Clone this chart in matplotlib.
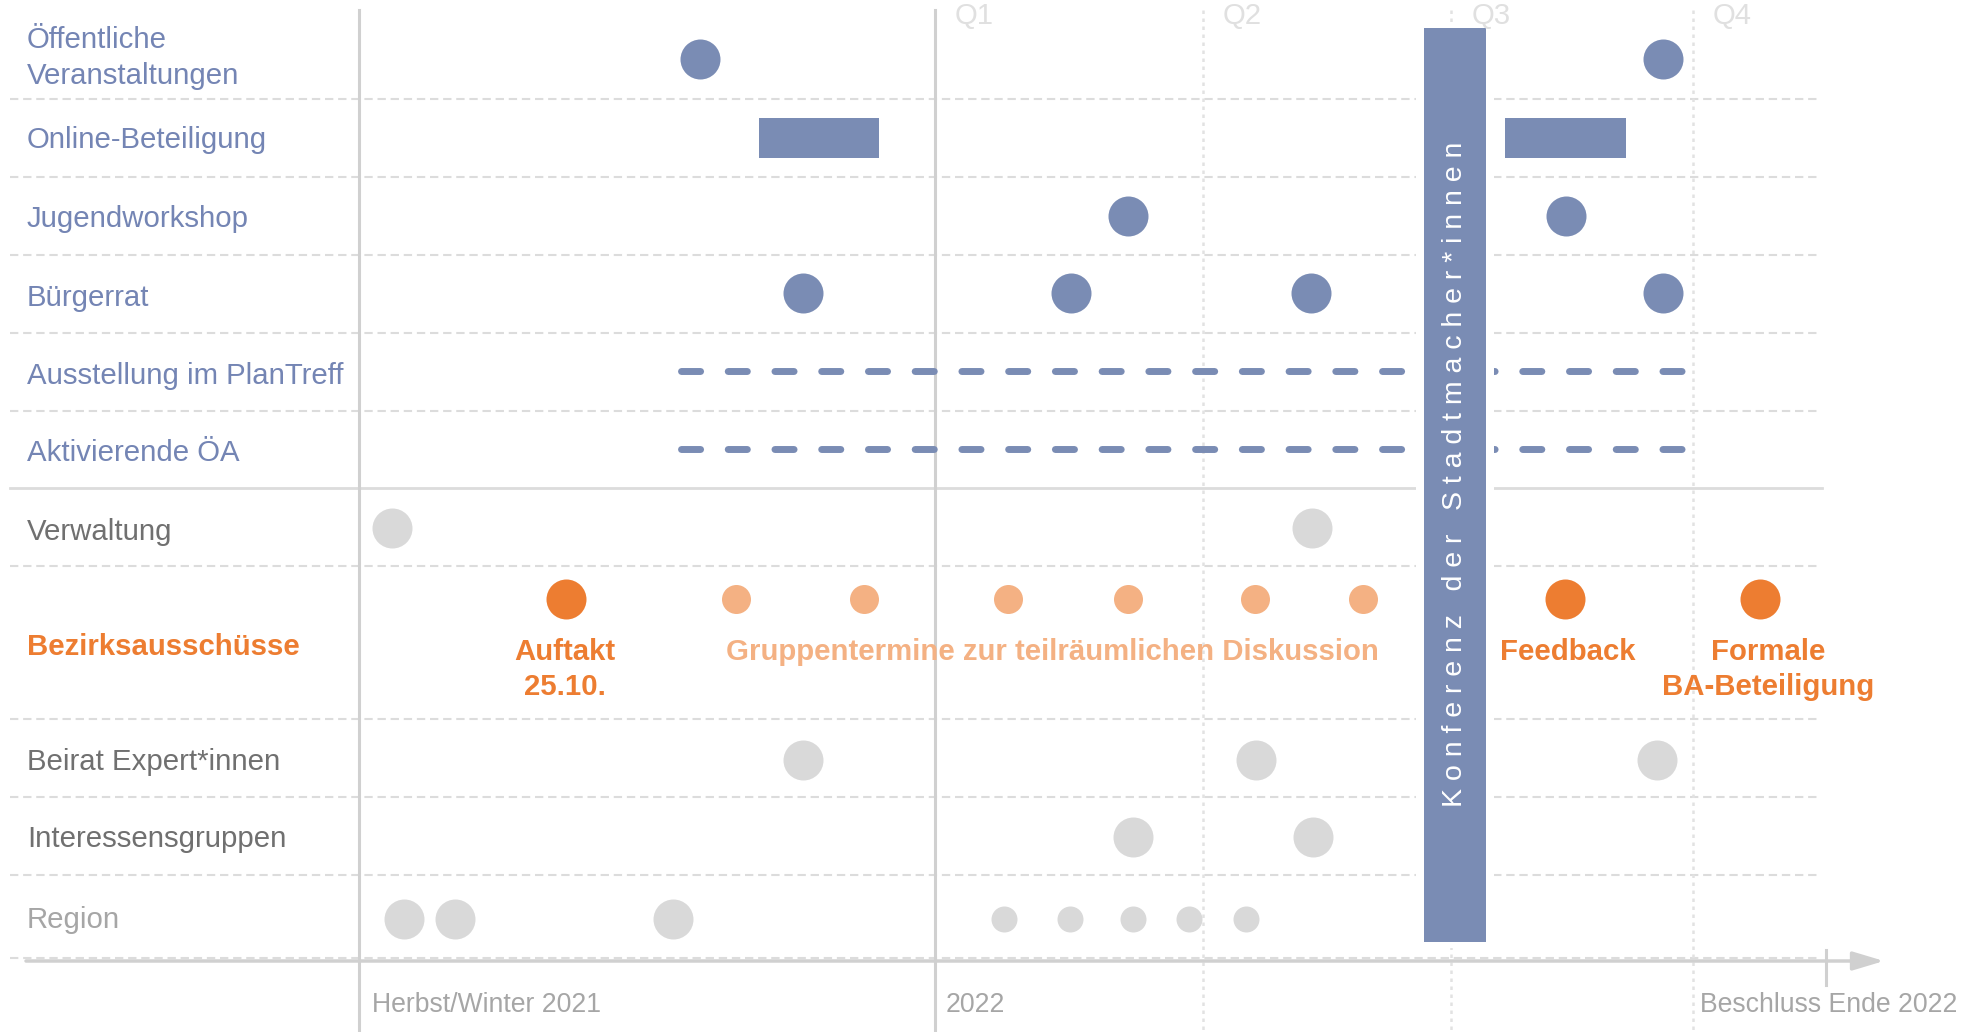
''' Zeitplan Beteiligung - timeline chart '''

import matplotlib
matplotlib.use('Agg')
import matplotlib.pyplot as plt

plt.rcParams['font.family'] = ['Liberation Sans', 'DejaVu Sans']

BLUE = '#7a8cb4'
BLUE_TXT = '#7485b4'
ORANGE = '#ed7d31'
ORANGE_LIGHT = '#f4b183'
GREY_DOT = '#d9d9d9'
GREY_TXT = '#707070'
GREY_LIGHT_TXT = '#a6a6a6'
LINE = '#d0d0d0'
GRID = '#dcdcdc'

# timeline in months, 0 = start of 2022
START = -6.84
YEAR_2022 = 0.0
END = 10.58
QUARTERS = ['Q1', 'Q2', 'Q3', 'Q4']
QUARTER_POS = [0.0, 3.18, 6.13, 9.0]

ROW_NAMES = ['Öffentliche\nVeranstaltungen', 'Online-Beteiligung', 'Jugendworkshop',
             'Bürgerrat', 'Ausstellung im PlanTreff', 'Aktivierende ÖA', 'Verwaltung',
             'Bezirksausschüsse', 'Beirat Expert*innen', 'Interessensgruppen', 'Region']

OEFF = [-2.79, 8.65]
ONLINE_START = [-2.09, 6.77]
ONLINE_END = [-0.66, 8.21]
JUGEND = [2.29, 7.49]
BUERGERRAT = [-1.57, 1.61, 4.47, 8.65]
AUSSTELLUNG = [-3.02, 8.93]
AKTIVIERENDE = [-3.02, 8.93]
VERWALTUNG = [-6.45, 4.48]
BA_MAIN = [-4.38, 7.48, 9.80]
BA_MAIN_LABELS = ['Auftakt\n25.10.', 'Feedback', 'Formale\nBA-Beteiligung']
BA_GROUP = [-2.36, -0.84, 0.87, 2.29, 3.80, 5.08]
BA_GROUP_LABEL = 'Gruppentermine zur teilräumlichen Diskussion'
BEIRAT = [-1.57, 3.81, 8.57]
INTERESSEN = [2.35, 4.49]
REGION_BIG = [-6.31, -5.70, -3.11]
REGION_SMALL = [0.82, 1.60, 2.35, 3.02, 3.69]
KONFERENZ = [5.81, 6.54]
KONFERENZ_LABEL = 'Konferenz der Stadtmacher*innen'
BOTTOM_LABELS = ['Herbst/Winter 2021', '2022', 'Beschluss Ende 2022']

# layout (pixel based)
W, H = 1961, 1032
X0 = 935.0
PPM = 84.2


def px(p):
    return (p - X0) / PPM


ROW_Y = [59, 137.5, 215.5, 292.5, 371, 449, 527.5, 599, 759.5, 837, 918.5]
LABEL_Y = [58, 140.5, 219, 298, 375.5, 453, 532, 647, 762, 839, 920]
ROW_COLORS = [BLUE_TXT] * 6 + [GREY_TXT, ORANGE, GREY_TXT, GREY_TXT, GREY_LIGHT_TXT]
BA_LABEL_SHIFT = [-1, 3, 8]
GRID_Y = [99, 177, 255, 333, 411, 566, 719, 797, 875, 958]
SOLID_Y = 488
AXIS_Y = 961
FS = 21.2
FS_AXIS = 19.2
BIG = (40 * 0.72) ** 2
MID = (29 * 0.72) ** 2
SMALL = (26 * 0.72) ** 2


def main():
    fig = plt.figure(figsize=(W / 100, H / 100), dpi=100)
    ax = fig.add_axes([0, 0, 1, 1])
    ax.set_xlim(px(0), px(W))
    ax.set_ylim(H, 0)
    ax.axis('off')

    # grid
    for gy in GRID_Y:
        ax.plot([px(10), px(1820)], [gy, gy], color=GRID, lw=1.5,
                dashes=(4, 2.3), zorder=1)
    ax.plot([px(10), px(1822)], [SOLID_Y, SOLID_Y], color=GRID, lw=2, zorder=1)
    ax.plot([START, START], [10, H], color=LINE, lw=2.2, zorder=1)
    ax.plot([YEAR_2022, YEAR_2022], [10, H], color=LINE, lw=2.2, zorder=1)
    for q in QUARTER_POS[1:]:
        ax.plot([q, q], [10, H], color='#e2e2e2', lw=1.8, dashes=(1.4, 1.8), zorder=1)
    for q, name in zip(QUARTER_POS, QUARTERS):
        ax.text(q + px(X0 + 20), 16, name, color='#e0e0e0', fontsize=FS,
                ha='left', va='center', zorder=8)

    # time axis
    ax.annotate('', xy=(px(1884), AXIS_Y), xytext=(px(26), AXIS_Y),
                arrowprops=dict(arrowstyle='-|>,head_length=1.0,head_width=0.3',
                                color=LINE, lw=2.5, mutation_scale=19,
                                shrinkA=0, shrinkB=0), zorder=2)
    ax.plot([END, END], [950, 985], color=LINE, lw=2.2, zorder=2)
    ax.text(START + px(X0 + 13), 1005, BOTTOM_LABELS[0], color=GREY_LIGHT_TXT,
            fontsize=FS_AXIS, ha='left', va='center')
    ax.text(YEAR_2022 + px(X0 + 11), 1005, BOTTOM_LABELS[1], color=GREY_LIGHT_TXT,
            fontsize=FS_AXIS, ha='left', va='center')
    ax.text(px(1957), 1005, BOTTOM_LABELS[2], color=GREY_LIGHT_TXT,
            fontsize=FS_AXIS, ha='right', va='center')

    # row labels
    for name, ly, c in zip(ROW_NAMES, LABEL_Y, ROW_COLORS):
        bold = name == 'Bezirksausschüsse'
        ax.text(px(27), ly, name, color=c, fontsize=FS, ha='left', va='center',
                fontweight='bold' if bold else 'normal', linespacing=1.4)

    # events
    ax.scatter(OEFF, [ROW_Y[0]] * len(OEFF), s=BIG, color=BLUE, lw=0, zorder=4)
    for s, e in zip(ONLINE_START, ONLINE_END):
        ax.barh(ROW_Y[1], e - s, left=s, height=40, color=BLUE, zorder=4)
    ax.scatter(JUGEND, [ROW_Y[2]] * len(JUGEND), s=BIG, color=BLUE, lw=0, zorder=4)
    ax.scatter(BUERGERRAT, [ROW_Y[3]] * len(BUERGERRAT), s=BIG, color=BLUE, lw=0, zorder=4)
    for span, ry in ((AUSSTELLUNG, ROW_Y[4]), (AKTIVIERENDE, ROW_Y[5])):
        ax.plot(span, [ry, ry], color=BLUE, lw=5, dashes=(2.75, 3.98),
                dash_capstyle='round', zorder=3)
    ax.scatter(VERWALTUNG, [ROW_Y[6]] * len(VERWALTUNG), s=BIG, color=GREY_DOT, lw=0, zorder=4)
    ax.scatter(BA_MAIN, [ROW_Y[7]] * len(BA_MAIN), s=BIG, color=ORANGE, lw=0, zorder=4)
    ax.scatter(BA_GROUP, [ROW_Y[7]] * len(BA_GROUP), s=MID, color=ORANGE_LIGHT, lw=0, zorder=4)
    for x, lab, dx in zip(BA_MAIN, BA_MAIN_LABELS, BA_LABEL_SHIFT):
        ax.text(x + px(X0 + dx), 638, lab, color=ORANGE, fontsize=FS, fontweight='bold',
                ha='center', va='top', linespacing=1.3)
    ax.text(px(1052), 638, BA_GROUP_LABEL, color=ORANGE_LIGHT, fontsize=FS,
            fontweight='bold', ha='center', va='top')
    ax.scatter(BEIRAT, [ROW_Y[8]] * len(BEIRAT), s=BIG, color=GREY_DOT, lw=0, zorder=4)
    ax.scatter(INTERESSEN, [ROW_Y[9]] * len(INTERESSEN), s=BIG, color=GREY_DOT, lw=0, zorder=4)
    ax.scatter(REGION_BIG, [ROW_Y[10]] * len(REGION_BIG), s=BIG, color=GREY_DOT, lw=0, zorder=4)
    ax.scatter(REGION_SMALL, [ROW_Y[10]] * len(REGION_SMALL), s=SMALL, color=GREY_DOT, lw=0, zorder=4)

    # Konferenz der Stadtmacher*innen
    k0, k1 = KONFERENZ
    pad = 8 / PPM
    ax.bar(k0 - pad, 924, width=(k1 - k0) + 2 * pad, bottom=24, align='edge',
           color='white', zorder=5)
    ax.bar(k0, 914, width=k1 - k0, bottom=27.5, align='edge', color=BLUE, zorder=6)
    spaced = '   '.join(' '.join(w) for w in KONFERENZ_LABEL.split(' '))
    ax.text((k0 + k1) / 2, 474, spaced, color='white', fontsize=20.5, rotation=90,
            ha='center', va='center', zorder=7)

    fig.savefig('out.png', dpi=100)


if __name__ == '__main__':
    main()
